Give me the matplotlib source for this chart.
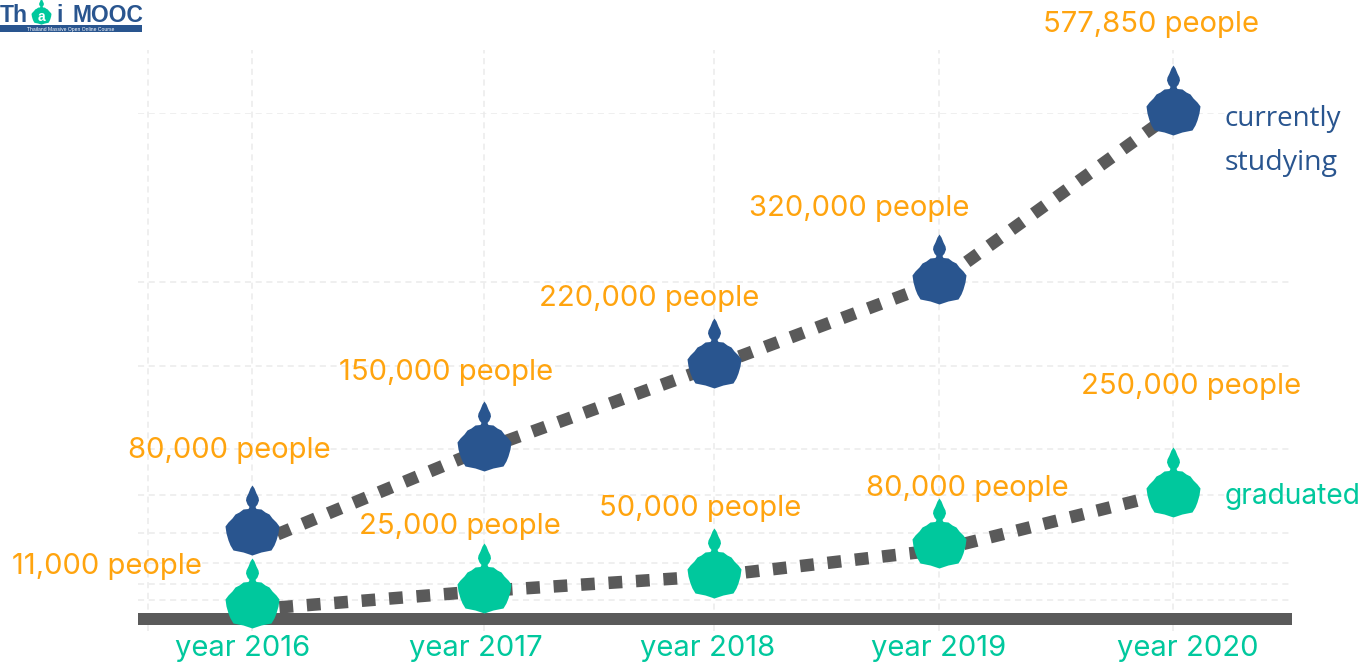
import numpy as np
import matplotlib
matplotlib.use('Agg')
import matplotlib.pyplot as plt
from matplotlib.lines import Line2D
from matplotlib.path import Path
from matplotlib.patches import Rectangle

plt.rcParams['font.family'] = ['Inter', 'DejaVu Sans']

# data
years = [2016, 2017, 2018, 2019, 2020]
studying = [80000, 150000, 220000, 320000, 577850]
graduated = [11000, 25000, 50000, 80000, 250000]
year_labels = ['year 2016', 'year 2017', 'year 2018', 'year 2019', 'year 2020']

# the dashed lines do not run exactly through the markers in the original
studying_line = [69000, 150000, 220000, 320000, 577850]
graduated_line = [8000, 25000, 50000, 76000, 253000]

# the y axis of the original is not proportional, each series has its own
studying_knots = [0, 80000, 150000, 220000, 320000, 577850]
graduated_knots = [0, 11000, 25000, 50000, 80000, 250000, 600000]
grid_values = [18000, 33000, 52000, 80000, 112000, 150000, 220000, 320000, 577850]

# layout, pixels of the 1368x666 picture
W, H = 1368, 666
BASE, TOP = 619, 113
LEFT, RIGHT = 138, 1292
year_px = [252, 484, 714, 939, 1173]
studying_px = [533, 449, 366, 282, 113]
graduated_px = [606, 591, 576, 546, 495]

studying_off = [(-23, 83), (-38, 76), (-65, 67), (-80, 73), (-22, 89)]
graduated_off = [(-145, 39), (-24, 64), (-14, 67), (28, 57), (18, 108)]
year_off = [-9, -8, -6, 0, 15]

BLUE = '#29558f'
GREEN = '#00c89d'
ORANGE = '#ffa40f'
GRAY = '#5a5a5a'
GRID = '#ebebeb'
PX = 72 / 100  # points per pixel


def knot_scale(values, fracs):
    return (lambda v: np.interp(v, values, fracs),
            lambda f: np.interp(f, fracs, values))


# finial + pentagon marker, anchor on the gridline
right_side = [(2, 45), (4, 40), (6, 36), (6.5, 33), (5, 29), (3, 26.5), (4, 24.5), (9, 24), (13, 21),
              (17, 19), (20, 15), (24, 11), (27, 7), (26, 0), (24, -7), (22, -12), (19, -17),
              (9, -19), (0, -22)]
marker_pts = [(0, 48)] + right_side + [(-x, y) for x, y in right_side[-2::-1]] + [(0, 48)]
temple = Path(marker_pts, closed=True)

fig = plt.figure(figsize=(W / 100, H / 100), dpi=100)
ax = fig.add_axes([LEFT / W, 1 - BASE / H, (RIGHT - LEFT) / W, (BASE - TOP) / H])

x_years = [2015.5] + years + [2020.5]
x_fracs = (np.array([LEFT] + year_px + [RIGHT]) - LEFT) / (RIGHT - LEFT)
ax.set_xscale('function', functions=knot_scale(x_years, x_fracs))
ax.set_xlim(2015.5, 2020.5)

heights = lambda px: [(BASE - p) / (BASE - TOP) for p in px]
ax.set_yscale('function', functions=knot_scale(studying_knots, [0] + heights(studying_px)))
ax.set_ylim(0, 577850)

ax2 = ax.twinx()
g_fracs = [0] + heights(graduated_px) + [1]
ax2.set_yscale('function', functions=knot_scale(graduated_knots, g_fracs))
ax2.set_ylim(0, 600000)

# grid
ax.set_yticks(grid_values)
ax.grid(axis='y', color=GRID, linestyle=(0, (4, 3)), linewidth=1.1)
ax.set_axisbelow(True)
ax.vlines([2015.544] + years, -0.024, 1.125, transform=ax.get_xaxis_transform(),
          color=GRID, linestyle=(0, (4, 3)), linewidth=1.1, clip_on=False, zorder=1)
ax.set_xticks([])
for a in (ax, ax2):
    a.tick_params(length=0, labelleft=False, labelright=False, labelbottom=False)
    for side in ('top', 'left', 'right', 'bottom'):
        a.spines[side].set_visible(False)
ax2.set_yticks([])
ax.spines['bottom'].set_visible(True)
ax.spines['bottom'].set_color(GRAY)
ax.spines['bottom'].set_linewidth(12 * PX)
ax.spines['bottom'].set_capstyle('butt')

# series
for a, vals, line_vals, col in ((ax, studying, studying_line, BLUE),
                                (ax2, graduated, graduated_line, GREEN)):
    a.plot(years, line_vals, color=GRAY, linewidth=12.5 * PX, linestyle=(0, (1.1, 1.1)),
           dash_capstyle='butt', clip_on=False, zorder=4)
    a.plot(years, vals, linestyle='none', marker=temple, markersize=96 * PX,
           markerfacecolor=col, markeredgewidth=0, clip_on=False, zorder=5)

# value labels
for a, vals, offs in ((ax, studying, studying_off), (ax2, graduated, graduated_off)):
    for yr, v, (dx, dy) in zip(years, vals, offs):
        a.annotate(f'{v:,} people', (yr, v), xytext=(dx * PX, dy * PX), textcoords='offset points',
                   ha='center', va='center', color=ORANGE, fontsize=21, annotation_clip=False,
                   zorder=6)

for yr, lab, dx in zip(years, year_labels, year_off):
    ax2.annotate(lab, (yr, 0), xytext=(dx * PX, -30 * PX), textcoords='offset points',
                 ha='center', va='center', color=GREEN, fontsize=21, annotation_clip=False)


def px_text(x, y, s, **kw):
    fig.text(x / W, 1 - y / H, s, **kw)


side_font = ['Open Sans', 'DejaVu Sans']
px_text(1225, 119, 'currently', color=BLUE, fontsize=20, va='center', family=side_font)
px_text(1225, 163, 'studying', color=BLUE, fontsize=20.5, va='center', family=side_font)
px_text(1225, 496, 'graduated', color=GREEN, fontsize=20.3, va='center')

# logo
fig.add_artist(Rectangle((0, 1 - 32 / H), 142 / W, 7 / H, transform=fig.transFigure, color=BLUE, lw=0))
fig.add_artist(Line2D([41 / W], [1 - 16 / H], transform=fig.transFigure, marker=temple,
                      markersize=96 * 0.37 * PX, markerfacecolor=GREEN, markeredgewidth=0))
logo_font = ['Liberation Sans', 'DejaVu Sans']
px_text(0, 22.5, 'Th', color=BLUE, fontsize=16.5, fontweight='bold', family=logo_font, va='baseline')
px_text(41, 21, 'a', color='white', fontsize=10, fontweight='bold', family=logo_font, va='baseline', ha='center')
px_text(56, 22.5, 'i', color=BLUE, fontsize=16.5, fontweight='bold', family=logo_font, va='baseline')
px_text(72, 22.5, 'MOOC', color=BLUE, fontsize=16.5, fontweight='bold', family=logo_font, va='baseline')
px_text(71, 29.5, 'Thailand Massive Open Online Course', color='white', fontsize=3.6, ha='center', va='center',
        family=logo_font)

fig.savefig('out.png', dpi=100)
